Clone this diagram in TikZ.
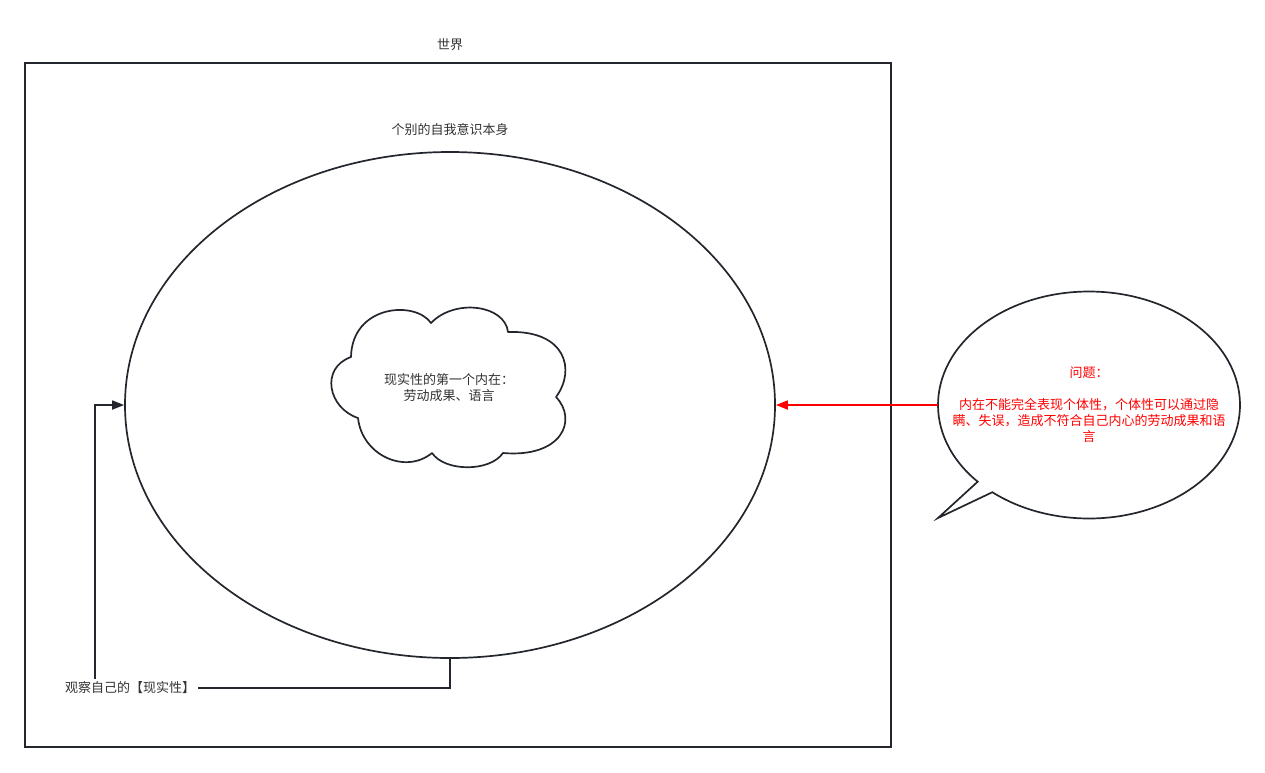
\documentclass[tikz,border=0pt]{standalone}
\usepackage{fontspec}
\setmainfont{Noto Sans CJK SC}
\usetikzlibrary{shapes.geometric,arrows.meta,calc}
\definecolor{ln}{HTML}{23272D}
\definecolor{tx}{HTML}{333333}
\definecolor{rd}{HTML}{FF0000}
\begin{document}
\begin{tikzpicture}[x=1pt,y=-1pt,
  every node/.style={font=\fontsize{13}{16}\selectfont, text=tx, inner sep=0pt},
  shapeline/.style={draw=ln, line width=1.7pt},
  lbl/.style={align=center},
  arr/.style={-{Triangle[length=12pt,width=9pt]}, line width=1.7pt},
]
\useasboundingbox (0,0) rectangle (1265,772);
\fill[white] (0,0) rectangle (1265,772);
% world frame
\node[shapeline, rectangle, minimum width=866pt, minimum height=684pt, line width=1.9pt] (world) at (458,405) {};
\node (worldtitle) at (450,45) {世界};
% self-consciousness ellipse
\node[shapeline, ellipse, minimum width=650pt, minimum height=506pt] (self) at (450,405) {};
\node (selftitle) at (450,130) {个别的自我意识本身};
% cloud
\draw[shapeline, line join=round] (351,357) .. controls (320,368) and (328,408) .. (358,418)
  .. controls (362,455) and (405,475) .. (432,453)
  .. controls (445,472) and (490,472) .. (503,453)
  .. controls (562,458) and (578,420) .. (556,397)
  .. controls (576,370) and (566,330) .. (508,332)
  .. controls (505,305) and (455,298) .. (431,323)
  .. controls (415,300) and (352,305) .. (351,357) -- cycle;
\node[lbl] (cloudtxt) at (449,388) {现实性的第一个内在：\\劳动成果、语言};
% speech bubble
\coordinate (bc) at (1089,405);
\draw[shapeline, fill=white, line join=miter]
  ($(bc)+(129.8:151 and 113.5)$) -- (938,518) -- ($(bc)+(137.5:151 and 113.5)$)
  arc[start angle=137.5, end angle=489.8, x radius=151, y radius=113.5] -- cycle;
\node[ellipse, minimum width=302pt, minimum height=227pt] (bub) at (bc) {};
\node[lbl, text=rd] (bubtxt) at (1089,405) {问题：\\ \\内在不能完全表现个体性，个体性可以通过隐\\瞒、失误，造成不符合自己内心的劳动成果和语\\言};
% red arrow
\draw[arr, draw=rd, color=rd] (bub.west) -- (self.east);
% observe connector
\node[inner sep=3pt] (obs) at (130,688) {观察自己的【现实性】};
\draw[shapeline] (self.south) |- (obs.east);
\coordinate (bend) at (95,405);
\draw[arr, draw=ln, color=ln] (obs.north -| bend) -- (bend) -- (self.west);
\end{tikzpicture}
\end{document}
